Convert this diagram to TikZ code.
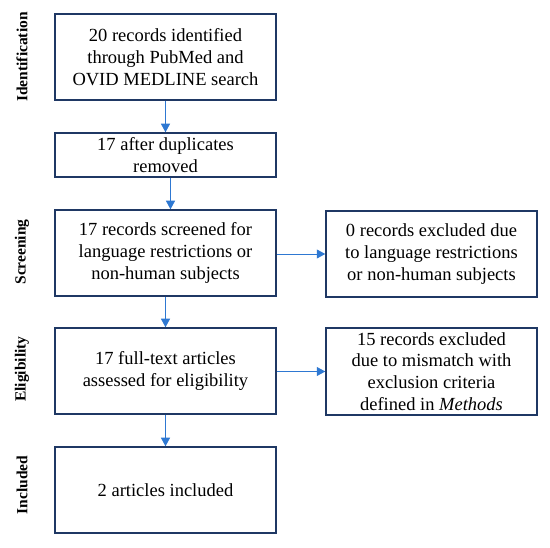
\documentclass[tikz,border=0pt]{standalone}
\usepackage{fontspec}
\setmainfont{Liberation Serif}
\usetikzlibrary{arrows.meta}
\definecolor{boxc}{HTML}{1F3864}
\definecolor{arrc}{HTML}{2E78D2}
\tikzset{
  box/.style={draw=boxc, line width=1.5pt, fill=white, align=center, inner sep=0pt,
    font=\fontsize{18.5}{21.7}\selectfont, minimum height=86pt},
  lbox/.style={box, minimum width=221pt},
  rbox/.style={box, minimum width=211pt},
  stage/.style={rotate=90, font=\bfseries\fontsize{15.5}{17}\selectfont, inner sep=0pt},
  conn/.style={draw=arrc, line width=0.9pt, -{Triangle[length=8.5pt,width=9pt]}}
}
\begin{document}
\begin{tikzpicture}[x=1pt,y=-1pt]
\useasboundingbox[fill=white] (0,0) rectangle (550,548);
\node[lbox] (b1) at (165.5,57) {20 records identified\\through PubMed and\\OVID MEDLINE search};
\node[lbox, minimum height=44pt] (b2) at (165.5,155) {17 after duplicates\\removed};
\node[lbox] (b3) at (165.5,253) {17 records screened for\\language restrictions or\\non-human subjects};
\node[lbox] (b4) at (165.5,371) {17 full-text articles\\assessed for eligibility};
\node[lbox] (b5) at (165.5,490) {2 articles included};
\node[rbox] (r1) at (431.5,254) {0 records excluded due\\to language restrictions\\or non-human subjects};
\node[rbox, minimum height=87pt] (r2) at (431.5,371.5) {15 records excluded\\due to mismatch with\\exclusion criteria\\defined in \textit{Methods}};
\node[stage] (s1) at (22,57) {Identification};
\node[stage] (s2) at (22,252) {Screening};
\node[stage] (s3) at (22,369) {Eligibility};
\node[stage] (s4) at (22,485) {Included};
\draw[conn] (b1.south) -- (b2.north);
\draw[conn] ([xshift=5pt]b2.south) -- ([xshift=5pt]b3.north);
\draw[conn] (b3.south) -- (b4.north);
\draw[conn] (b4.south) -- (b5.north);
\draw[conn] (b3.east |- r1.west) -- (r1.west);
\draw[conn] (b4.east |- r2.west) -- (r2.west);
\end{tikzpicture}
\end{document}
